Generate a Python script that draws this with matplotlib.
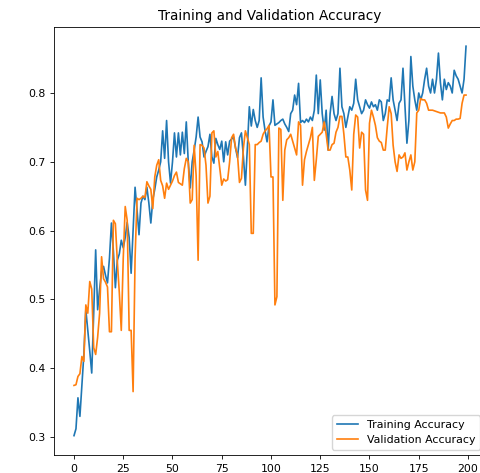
import matplotlib
matplotlib.use("Agg")
import matplotlib.pyplot as plt

epochs = list(range(200))

train_acc = [
    0.302, 0.312, 0.357, 0.330, 0.375, 0.420, 0.485, 0.455, 0.425, 0.393,
    0.480, 0.572, 0.485, 0.515, 0.540, 0.548, 0.535, 0.524, 0.560, 0.611,
    0.570, 0.517, 0.557, 0.566, 0.586, 0.575, 0.590, 0.612, 0.590, 0.538,
    0.600, 0.663, 0.630, 0.594, 0.640, 0.650, 0.645, 0.663, 0.640, 0.611,
    0.645, 0.660, 0.678, 0.688, 0.700, 0.745, 0.705, 0.760, 0.700, 0.669,
    0.700, 0.742, 0.707, 0.742, 0.710, 0.743, 0.712, 0.758, 0.700, 0.662,
    0.700, 0.717, 0.736, 0.765, 0.736, 0.729, 0.707, 0.715, 0.722, 0.740,
    0.707, 0.698, 0.734, 0.725, 0.718, 0.730, 0.700, 0.729, 0.710, 0.730,
    0.733, 0.736, 0.720, 0.706, 0.735, 0.742, 0.707, 0.666, 0.720, 0.780,
    0.752, 0.776, 0.760, 0.750, 0.760, 0.822, 0.765, 0.745, 0.729, 0.752,
    0.758, 0.790, 0.753, 0.755, 0.757, 0.760, 0.762, 0.755, 0.750, 0.744,
    0.770, 0.775, 0.797, 0.783, 0.814, 0.757, 0.760, 0.757, 0.762, 0.758,
    0.765, 0.760, 0.775, 0.826, 0.770, 0.819, 0.770, 0.746, 0.775, 0.717,
    0.770, 0.795, 0.770, 0.760, 0.770, 0.836, 0.780, 0.770, 0.750, 0.765,
    0.780, 0.775, 0.785, 0.820, 0.790, 0.780, 0.770, 0.775, 0.790, 0.783,
    0.778, 0.787, 0.780, 0.783, 0.775, 0.790, 0.787, 0.760, 0.770, 0.790,
    0.788, 0.822, 0.790, 0.775, 0.760, 0.785, 0.790, 0.836, 0.780, 0.727,
    0.760, 0.853, 0.810, 0.790, 0.775, 0.800, 0.790, 0.800, 0.820, 0.836,
    0.810, 0.800, 0.820, 0.800, 0.820, 0.858, 0.815, 0.790, 0.820, 0.805,
    0.815, 0.810, 0.800, 0.833, 0.825, 0.820, 0.810, 0.800, 0.820, 0.868,
]

val_acc = [
    0.375, 0.376, 0.388, 0.392, 0.417, 0.410, 0.492, 0.480, 0.526, 0.515,
    0.430, 0.420, 0.445, 0.480, 0.562, 0.530, 0.525, 0.518, 0.453, 0.453,
    0.615, 0.610, 0.555, 0.510, 0.455, 0.560, 0.635, 0.615, 0.455, 0.455,
    0.366, 0.560, 0.647, 0.645, 0.647, 0.650, 0.648, 0.671, 0.665, 0.660,
    0.632, 0.678, 0.695, 0.703, 0.673, 0.665, 0.647, 0.669, 0.660, 0.666,
    0.672, 0.680, 0.685, 0.670, 0.668, 0.666, 0.690, 0.705, 0.700, 0.640,
    0.645, 0.724, 0.680, 0.557, 0.725, 0.724, 0.720, 0.695, 0.640, 0.650,
    0.742, 0.745, 0.707, 0.715, 0.690, 0.666, 0.675, 0.672, 0.674, 0.700,
    0.735, 0.740, 0.720, 0.710, 0.670, 0.676, 0.720, 0.745, 0.735, 0.725,
    0.596, 0.596, 0.725, 0.725, 0.728, 0.730, 0.740, 0.745, 0.748, 0.753,
    0.678, 0.678, 0.492, 0.504, 0.749, 0.747, 0.644, 0.717, 0.732, 0.735,
    0.740, 0.730, 0.720, 0.710, 0.758, 0.753, 0.666, 0.703, 0.715, 0.725,
    0.735, 0.750, 0.673, 0.703, 0.737, 0.740, 0.743, 0.758, 0.740, 0.717,
    0.717, 0.725, 0.727, 0.743, 0.750, 0.766, 0.766, 0.740, 0.707, 0.707,
    0.688, 0.659, 0.740, 0.768, 0.765, 0.720, 0.743, 0.740, 0.659, 0.644,
    0.756, 0.775, 0.765, 0.753, 0.735, 0.730, 0.728, 0.717, 0.717, 0.750,
    0.780, 0.770, 0.724, 0.700, 0.686, 0.710, 0.705, 0.707, 0.713, 0.688,
    0.700, 0.710, 0.688, 0.700, 0.771, 0.775, 0.792, 0.790, 0.790, 0.785,
    0.775, 0.775, 0.775, 0.774, 0.773, 0.772, 0.771, 0.771, 0.771, 0.765,
    0.749, 0.755, 0.760, 0.760, 0.762, 0.762, 0.763, 0.785, 0.797, 0.797,
]

series_labels = ["Training Accuracy", "Validation Accuracy"]
title_text = "Training and Validation Accuracy"

fig = plt.figure(figsize=(4.81, 4.73), dpi=100)
ax = fig.add_axes([0.1131, 0.0378, 0.8965, 0.9057])

ax.plot(epochs, train_acc, color="#1f77b4", linewidth=1.2, label=series_labels[0])
ax.plot(epochs, val_acc, color="#ff7f0e", linewidth=1.2, label=series_labels[1])

ax.set_xticks([0, 25, 50, 75, 100, 125, 150, 175, 200])
ax.set_yticks([0.3, 0.4, 0.5, 0.6, 0.7, 0.8])
ax.tick_params(labelsize=7.8, length=2.8, width=0.6)
for s in ax.spines.values():
    s.set_linewidth(0.6)

ax.set_title(title_text, fontsize=9.8, pad=4.5)
ax.legend(loc="lower right", fontsize=7.9)

fig.savefig("out.png", dpi=100)
